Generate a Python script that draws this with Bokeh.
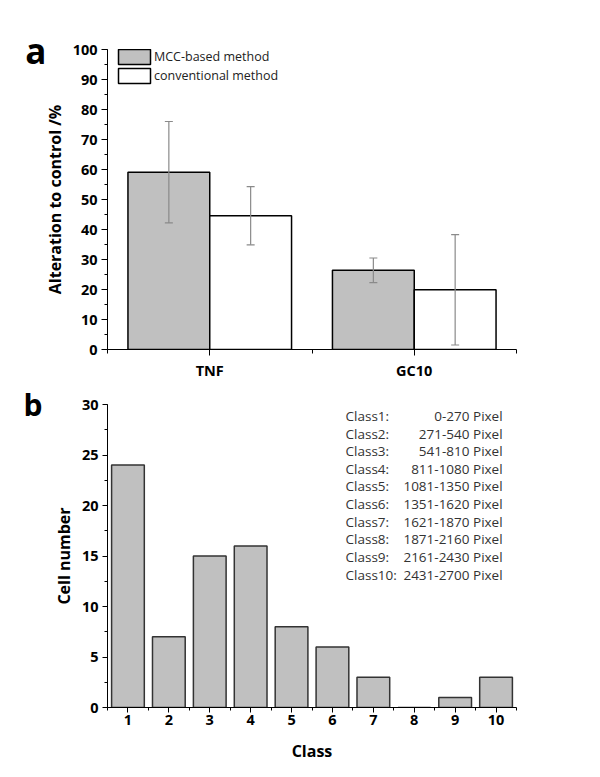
from bokeh.plotting import figure
from bokeh.models import (Range1d, FixedTicker, Whisker, TeeHead, ColumnDataSource,
                          Legend, LegendItem, LinearAxis)
from bokeh.layouts import column
from bokeh.embed import file_html
from bokeh.resources import INLINE
from bokeh.core.properties import value

# ---------------- data ----------------
groups = ["TNF", "GC10"]
mcc_mean = [59.1, 26.4]
mcc_err = [16.9, 4.1]
conv_mean = [44.6, 19.9]
conv_err = [9.7, 18.4]

classes = [1, 2, 3, 4, 5, 6, 7, 8, 9, 10]
cell_counts = [24, 7, 15, 16, 8, 6, 3, 0, 1, 3]
class_names = ["Class1:", "Class2:", "Class3:", "Class4:", "Class5:",
               "Class6:", "Class7:", "Class8:", "Class9:", "Class10:"]
pixel_ranges = ["0-270 Pixel", "271-540 Pixel", "541-810 Pixel", "811-1080 Pixel",
                "1081-1350 Pixel", "1351-1620 Pixel", "1621-1870 Pixel",
                "1871-2160 Pixel", "2161-2430 Pixel", "2431-2700 Pixel"]

FONT = "Open Sans"
GRAY = "#c0c0c0"
FRAME_H = 303


def style_axis(ax, tick_out, minor_out, standoff, label_standoff):
    ax.axis_line_color = "black"
    ax.axis_line_width = 1
    ax.major_tick_line_color = "black"
    ax.minor_tick_line_color = "black"
    ax.major_tick_in = 0
    ax.major_tick_out = tick_out
    ax.minor_tick_in = 0
    ax.minor_tick_out = minor_out
    ax.major_label_text_font = FONT
    ax.major_label_text_font_style = "bold"
    ax.major_label_text_font_size = "14.5px"
    ax.major_label_text_color = "black"
    ax.major_label_standoff = standoff
    ax.axis_label_text_font = FONT
    ax.axis_label_text_font_style = "bold"
    ax.axis_label_text_font_size = "16px"
    ax.axis_label_text_color = "black"
    ax.axis_label_standoff = label_standoff


def clean(p):
    p.xgrid.visible = False
    p.ygrid.visible = False
    p.outline_line_color = None


def add_letter(p, letter, pos, standoff, size):
    # panel letter drawn as the only label of a bare extra axis on the left
    p.extra_y_ranges = {"lbl": Range1d(0, FRAME_H)}
    ax = LinearAxis(y_range_name="lbl", ticker=FixedTicker(ticks=[pos]),
                    major_label_overrides={pos: letter},
                    axis_line_color=None, major_tick_line_color=None,
                    minor_tick_line_color=None, major_tick_in=0, major_tick_out=0,
                    major_label_standoff=standoff, major_label_text_font=FONT,
                    major_label_text_font_style="bold", major_label_text_font_size=size,
                    major_label_text_color="black")
    p.add_layout(ax, "left")


# ---------------- panel a ----------------
pa = figure(width=600, height=382, output_backend="svg", toolbar_location=None,
            x_range=Range1d(0, 2), y_range=Range1d(0, 100),
            min_border_left=107, min_border_right=83, min_border_top=49,
            min_border_bottom=30)

centers = [i + 0.5 for i in range(len(groups))]
src_mcc = ColumnDataSource(dict(x=[c - 0.2 for c in centers], top=mcc_mean,
                                upper=[m + e for m, e in zip(mcc_mean, mcc_err)],
                                lower=[m - e for m, e in zip(mcc_mean, mcc_err)]))
src_conv = ColumnDataSource(dict(x=[c + 0.2 for c in centers], top=conv_mean,
                                 upper=[m + e for m, e in zip(conv_mean, conv_err)],
                                 lower=[m - e for m, e in zip(conv_mean, conv_err)]))

r1 = pa.vbar(x="x", top="top", width=0.4, bottom=0, source=src_mcc,
             fill_color=GRAY, line_color="black", line_width=1.5)
r2 = pa.vbar(x="x", top="top", width=0.4, bottom=0, source=src_conv,
             fill_color="white", line_color="black", line_width=1.5)

for src in (src_mcc, src_conv):
    w = Whisker(source=src, base="x", upper="upper", lower="lower", dimension="height",
                line_color="#8a8a8a", line_width=1.2, level="annotation",
                upper_head=TeeHead(size=8, line_color="#8a8a8a", line_width=1.2),
                lower_head=TeeHead(size=8, line_color="#8a8a8a", line_width=1.2))
    pa.add_layout(w)

clean(pa)
style_axis(pa.xaxis[0], 6, 4, 5, 10)
style_axis(pa.yaxis[0], 6, 3, 4, 4)
pa.xaxis.ticker = FixedTicker(ticks=centers, minor_ticks=[0, 1, 2])
pa.xaxis.major_label_overrides = {c: g for c, g in zip(centers, groups)}
pa.yaxis.ticker = FixedTicker(ticks=list(range(0, 101, 10)), minor_ticks=list(range(0, 101, 5)))
pa.yaxis.axis_label = "Alteration to control /%"

legend = Legend(items=[LegendItem(label="MCC-based method", renderers=[r1]),
                       LegendItem(label="conventional method", renderers=[r2])],
                location=(7, 264), glyph_width=40, glyph_height=19, label_height=19,
                spacing=0, padding=0, margin=0, label_standoff=0,
                label_text_font=FONT, label_text_font_size="12.5px",
                label_text_color="#222222", border_line_color=None,
                background_fill_alpha=0)
pa.add_layout(legend)

add_letter(pa, "a", 301.5, -6, "35px")

# ---------------- panel b ----------------
pb = figure(width=600, height=393, output_backend="svg", toolbar_location=None,
            x_range=Range1d(0.5, 10.5), y_range=Range1d(0, 30),
            min_border_left=107, min_border_right=84, min_border_top=22,
            min_border_bottom=68)

pb.vbar(x=classes, top=cell_counts, width=0.8, bottom=0,
        fill_color=GRAY, line_color="#333333", line_width=1.5)

clean(pb)
style_axis(pb.xaxis[0], 5, 3, 2, 12)
style_axis(pb.yaxis[0], 5, 3, 4, 4)
pb.xaxis.ticker = FixedTicker(ticks=classes, minor_ticks=[c - 0.5 for c in classes] + [10.5])
pb.yaxis.ticker = FixedTicker(ticks=list(range(0, 31, 5)),
                              minor_ticks=[i * 2.5 for i in range(13)])
pb.xaxis.axis_label = "Class"
pb.yaxis.axis_label = "Cell number"

line_step = 1.745
ys = [28.87 - i * line_step for i in range(len(class_names))]
pb.text(x=[6.32] * len(class_names), y=ys, text=class_names,
        text_font=value(FONT), text_font_size="13.5px", text_color="#333333",
        text_align="left", text_baseline="middle")
pb.text(x=[10.16] * len(pixel_ranges), y=ys, text=pixel_ranges,
        text_font=value(FONT), text_font_size="13.5px", text_color="#333333",
        text_align="right", text_baseline="middle")

add_letter(pb, "b", 303, 7, "30px")

layout = column(pa, pb, spacing=0)
open("out.html", "w").write(file_html(layout, INLINE))
